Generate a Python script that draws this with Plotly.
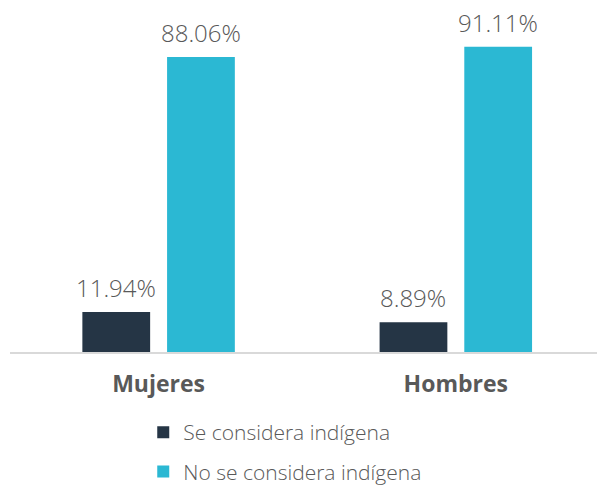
import plotly.graph_objects as go

categories = ["Mujeres", "Hombres"]
series_names = ["Se considera indígena", "No se considera indígena"]
indigena = [11.94, 8.89]
no_indigena = [88.06, 91.11]
colors = ["#253545", "#2BB8D3"]

FONT = "Open Sans"
GRAY = "#595959"
BARGAP = 0.43

fig = go.Figure()
annotations = []
for i, (name, vals, col) in enumerate(zip(series_names, [indigena, no_indigena], colors)):
    fig.add_trace(go.Bar(
        x=list(range(len(categories))), y=vals, name=name, legendgroup=f"g{i}",
        marker=dict(color=col, line=dict(width=0)),
        hoverinfo="skip",
    ))
    off = (i - 0.5) * (1 - BARGAP) / 2
    for j, v in enumerate(vals):
        annotations.append(dict(
            x=j + off, y=v, xref="x", yref="y", text=f"{v:.2f}%",
            showarrow=False, yanchor="bottom", yshift=6,
            font=dict(family=FONT, size=24, color=GRAY, weight=300),
        ))

fig.update_layout(
    width=597, height=486,
    margin=dict(l=10, r=0, t=17, b=134),
    paper_bgcolor="white", plot_bgcolor="white",
    barmode="group", bargap=BARGAP, bargroupgap=0.2,
    annotations=annotations,
    showlegend=True,
    legend=dict(orientation="v", x=0.227, xanchor="left",
                yref="container", y=0.152, yanchor="top",
                font=dict(family=FONT, size=21, color=GRAY, weight=300),
                itemwidth=30, traceorder="grouped", tracegroupgap=9),
    xaxis=dict(range=[-0.5, 1.475], showline=True, linecolor="#D9D9D9", linewidth=2,
               tickmode="array", tickvals=list(range(len(categories))), ticktext=categories,
               ticks="outside", ticklen=10, tickcolor="rgba(0,0,0,0)", showgrid=False,
               tickfont=dict(family=FONT, size=23, color=GRAY, weight="bold")),
    yaxis=dict(range=[0, 100], visible=False, showgrid=False, zeroline=False),
)

fig.write_html("out.html", config={"displayModeBar": False},
               post_script="document.body.style.margin='0';")
